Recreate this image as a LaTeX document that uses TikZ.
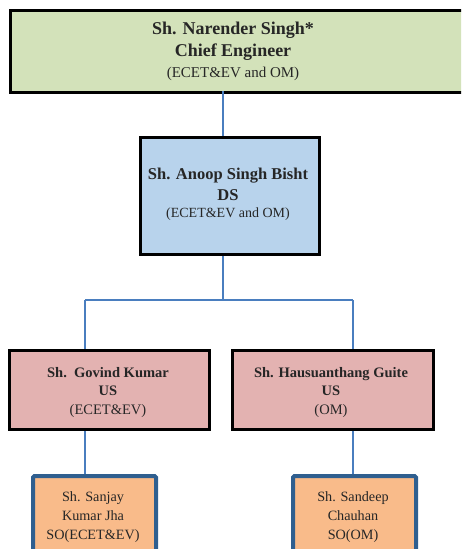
\documentclass[tikz,border=0pt]{standalone}
\usepackage{fontspec}
\setmainfont{Liberation Serif}
\definecolor{cegreen}{HTML}{D3E2BA}
\definecolor{dsblue}{HTML}{B8D3EC}
\definecolor{uspink}{HTML}{E3B2B1}
\definecolor{soorange}{HTML}{F9BB8A}
\definecolor{soborder}{HTML}{2F5F8F}
\definecolor{linkblue}{HTML}{4A7EBF}
\tikzset{
  boxbase/.style={draw=black, line width=2.8pt, anchor=north west, inner sep=0pt},
  sobox/.style={draw=soborder, line width=4pt, rounded corners=1.5pt, anchor=north west, inner sep=0pt, fill=soorange},
  link/.style={draw=linkblue, line width=2.5pt},
  lbl/.style={align=center, inner sep=0pt, text=black!85}
}
\begin{document}
\begin{tikzpicture}[x=1pt,y=-1pt]
\useasboundingbox (0,0) rectangle (461,549);
\clip (0,0) rectangle (461,549);
% boxes
\node[boxbase, fill=cegreen, minimum width=465pt, minimum height=82pt] (ce) at (9,9) {};
\node[boxbase, fill=dsblue, minimum width=179pt, minimum height=117pt] (ds) at (139,136) {};
\node[boxbase, fill=uspink, minimum width=200pt, minimum height=79pt] (us1) at (8,349) {};
\node[boxbase, fill=uspink, minimum width=201pt, minimum height=79pt] (us2) at (231,349) {};
\node[sobox, minimum width=123pt, minimum height=85pt] (so1) at (31,474) {};
\node[sobox, minimum width=123pt, minimum height=85pt] (so2) at (291,474) {};
% connectors
\coordinate (ceb) at (223,91);
\coordinate (j) at (223,300);
\draw[link] (ceb) -- (ds.north -| ceb);
\draw[link] (ds.south -| ceb) -- (j);
\draw[link] (85,300) coordinate (jl) -- (353,300) coordinate (jr);
\draw[link] (jl) -- (us1.north -| jl);
\draw[link] (jr) -- (us2.north -| jr);
\draw[link] (us1.south -| jl) -- (so1.north -| jl);
\draw[link] (us2.south -| jr) -- (so2.north -| jr);
% labels
\node[lbl, font=\fontsize{18}{22}\selectfont\bfseries] (tce) at (233,51) {Sh. Narender Singh*\\Chief Engineer\\[-1pt]{\fontsize{15}{17}\selectfont\mdseries (ECET\&EV and OM)}};
\node[lbl, font=\fontsize{16.5}{20.5}\selectfont\bfseries] (tds) at (228,194.5) {Sh. Anoop Singh Bisht\\DS\\[-3pt]{\fontsize{14}{16}\selectfont\mdseries (ECET\&EV and OM)}};
\node[lbl, font=\fontsize{14.5}{18.5}\selectfont\bfseries] (tus1) at (108,392.5) {Sh.\ \ Govind Kumar\\US\\{\mdseries (ECET\&EV)}};
\node[lbl, font=\fontsize{14.5}{18.5}\selectfont\bfseries] (tus2) at (331,392.5) {Sh. Hausuanthang Guite\\US\\{\mdseries (OM)}};
\node[lbl, font=\fontsize{14.2}{19}\selectfont] (tso1) at (93,517) {Sh. Sanjay\\Kumar Jha\\SO(ECET\&EV)};
\node[lbl, font=\fontsize{14.2}{19}\selectfont] (tso2) at (353,517) {Sh. Sandeep\\Chauhan\\SO(OM)};
\end{tikzpicture}
\end{document}
